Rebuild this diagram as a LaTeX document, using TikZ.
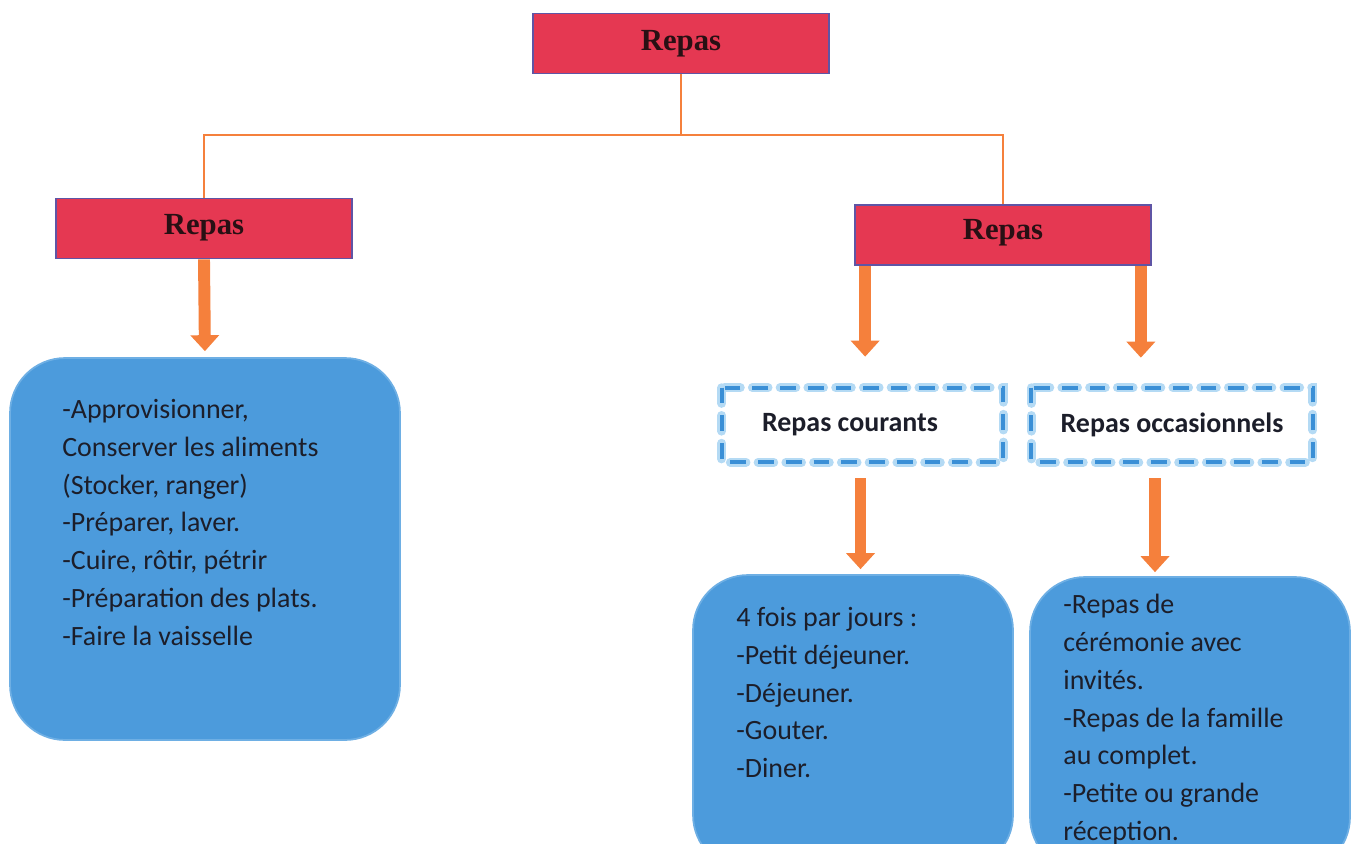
\documentclass[tikz,border=0pt]{standalone}
\usepackage{fontspec}
\setmainfont{Carlito}
\newfontfamily\rserif{Liberation Serif}
\usetikzlibrary{arrows.meta,calc}
\definecolor{redfill}{RGB}{229,56,82}
\definecolor{redline}{RGB}{95,85,165}
\definecolor{orangeline}{RGB}{245,128,60}
\definecolor{bluefill}{RGB}{76,155,220}
\definecolor{blueline}{RGB}{110,175,228}
\definecolor{dashblue}{RGB}{58,143,214}
\definecolor{glowblue}{RGB}{180,218,244}
\definecolor{textdark}{RGB}{28,30,42}
\definecolor{redtext}{RGB}{40,16,20}
\begin{document}
\begin{tikzpicture}[x=0.02cm,y=-0.02cm,
  redbox/.style={draw=redline,line width=1pt,fill=redfill,minimum width=5.92cm,minimum height=1.2cm,inner sep=0pt,
    font=\rserif\bfseries\fontsize{17.5}{20}\selectfont,text=redtext},
  conn/.style={draw=orangeline,line width=1.4pt},
  bigarrow/.style={draw=orangeline,line width=6.8pt,-{Triangle[width=0.56cm,length=0.32cm]}},
  dashbox/.style={minimum width=5.62cm,minimum height=1.48cm,inner sep=0pt,
    font=\bfseries\fontsize{15.9}{19}\selectfont,text=textdark},
  glow/.style={draw=glowblue,line width=5pt,dash pattern=on 9pt off 6.8pt,line cap=round},
  dashline/.style={draw=dashblue,line width=2.3pt,dash pattern=on 9pt off 6.8pt},
  bluebox/.style={fill=bluefill,draw=blueline,line width=1pt,rounded corners=1.1cm,inner sep=0pt},
  bodytext/.style={anchor=north west,align=left,inner sep=0pt,font=\fontsize{15.9}{21.5}\selectfont,text=textdark}
]
\useasboundingbox (0,0) rectangle (1354,843);
\clip (0,0) rectangle (1354,843);

% red boxes
\node[redbox] (top) at (681,43.5) {Repas};
\node[redbox] (lred) at (204,228.5) {\raisebox{4.5pt}{Repas}};
\node[redbox] (rred) at (1003,235) {\raisebox{6pt}{Repas}};

% tree connectors
\coordinate (bus) at (681,135);
\draw[conn] (top.south) -- (bus);
\draw[conn] (lred.north) |- (bus) -| (rred.north);

% dashed boxes
\node[dashbox] (cour) at (862.5,425) {\hspace*{-0.5cm}Repas courants};
\node[dashbox] (occ) at (1172,425) {Repas occasionnels};
\foreach \b in {cour,occ}{
  \draw[glow] (\b.north west) rectangle (\b.south east);
  \draw[dashline] (\b.north west) rectangle (\b.south east);
}

% blue boxes
\node[bluebox,minimum width=7.8cm,minimum height=7.64cm] (lblue) at (205,549) {};
\node[bluebox,minimum width=6.4cm,minimum height=5.9cm] (mblue) at (853,722.5) {};
\node[bluebox,minimum width=6.4cm,minimum height=5.9cm] (rblue) at (1190,724.5) {};

% texts
\node[bodytext] (ltext) at (62,399) {-Approvisionner,\\Conserver les aliments\\(Stocker, ranger)\\-Préparer, laver.\\-Cuire, rôtir, pétrir\\-Préparation des plats.\\-Faire la vaisselle};
\node[bodytext] (mtext) at (736,607) {4 fois par jours :\\-Petit déjeuner.\\-Déjeuner.\\-Gouter.\\-Diner.};
\node[bodytext] (rtext) at (1063,594) {-Repas de\\cérémonie avec\\invités.\\-Repas de la famille\\au complet.\\-Petite ou grande\\réception.};

% arrows
\draw[bigarrow,shorten >=0.12cm] (lred.south) -- (lblue.north);
\coordinate (ra) at ($(rred.south west)+(11,0)$);
\coordinate (rb) at ($(rred.south east)+(-11,0)$);
\draw[bigarrow,shorten >=0.62cm] (ra) -- (ra |- cour.north);
\draw[bigarrow,shorten >=0.6cm] (rb) -- (rb |- occ.north);
\coordinate (ca) at ($(cour.south)+(-2,0)$);
\coordinate (oa) at ($(occ.south)+(-17,0)$);
\draw[bigarrow,shorten <=0.32cm,shorten >=0.1cm] (ca) -- (ca |- mblue.north);
\draw[bigarrow,shorten <=0.32cm,shorten >=0.08cm] (oa) -- (oa |- rblue.north);
\end{tikzpicture}
\end{document}
